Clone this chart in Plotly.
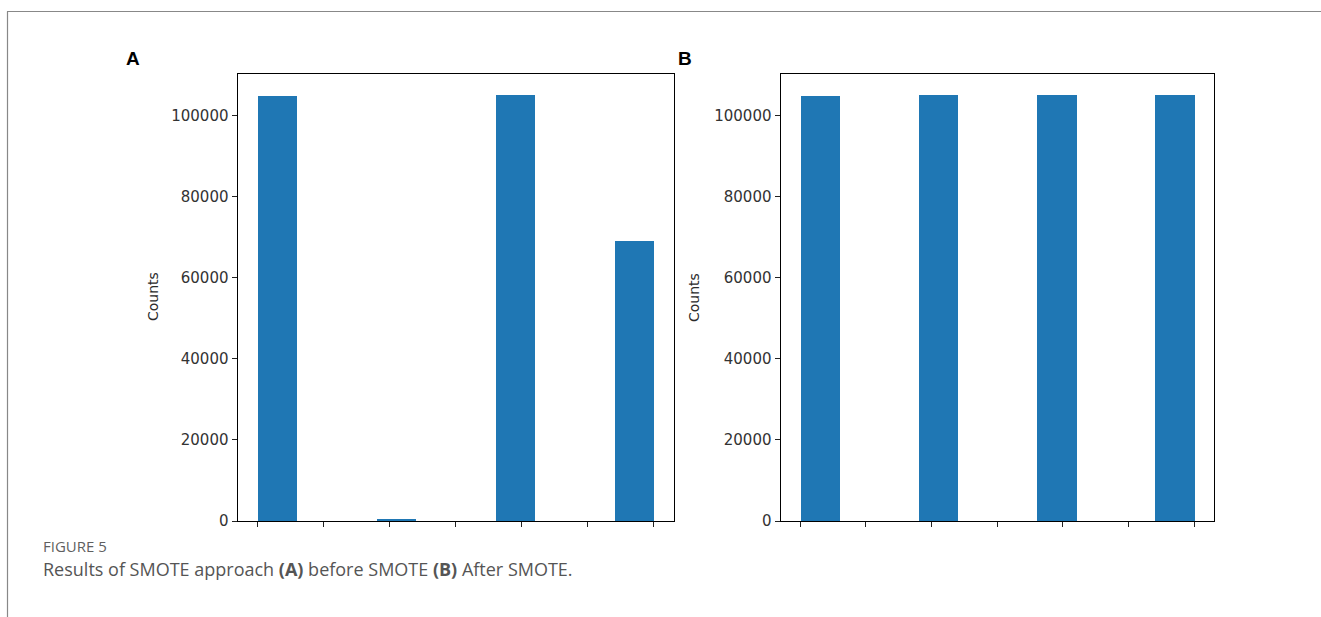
import math
import plotly.graph_objects as go

# ---- data ----
classes = [0, 1, 2, 3]
counts_before = [104900, 500, 105100, 69100]
counts_after = [104900, 105100, 105100, 105100]
y_ticks = [0, 20000, 40000, 60000, 80000, 100000]
x_ticks = [0, 0.5, 1.0, 1.5, 2.0, 2.5, 3.0]
n_bins = 10
panel_labels = ["A", "B"]
y_title = "Counts"
caption_head = "FIGURE 5"
caption_text = "Results of SMOTE approach <b>(A)</b> before SMOTE <b>(B)</b> After SMOTE."

W, H = 1321, 617
BLUE = "#1f77b4"

lo, hi = min(classes), max(classes)
bw = (hi - lo) / n_bins


def bin_center(v):
    idx = min(int(math.floor((v - lo) / bw + 1e-9)), n_bins - 1)
    return lo + (idx + 0.5) * bw


centers = [bin_center(v) for v in classes]

fig = go.Figure()
fig.add_trace(go.Bar(x=centers, y=counts_before, width=bw, marker=dict(color=BLUE, line=dict(width=0)),
                     xaxis="x", yaxis="y", showlegend=False, hoverinfo="skip"))
fig.add_trace(go.Bar(x=centers, y=counts_after, width=bw, marker=dict(color=BLUE, line=dict(width=0)),
                     xaxis="x2", yaxis="y2", showlegend=False, hoverinfo="skip"))


def px_x(p):
    return p / W


def px_y(p):
    return 1 - p / H


ymax = max(counts_before + counts_after) * 1.05
xpad = (hi - lo) * 0.05

ax_common = dict(showline=True, linecolor="black", linewidth=1, mirror=True, showgrid=False,
                 zeroline=False, ticks="outside", ticklen=5, tickcolor="#222", tickwidth=1,
                 automargin=False)
font_tick = dict(family="DejaVu Sans", size=15, color="#333")

doms = [(237.5, 673.5), (780.5, 1214)]
ydom = [px_y(521), px_y(74)]

fig.update_layout(
    width=W, height=H, autosize=False, margin=dict(l=0, r=0, t=0, b=0, pad=0),
    paper_bgcolor="white", plot_bgcolor="white", bargap=0,
    xaxis=dict(domain=[px_x(doms[0][0]), px_x(doms[0][1])], range=[lo - xpad, hi + xpad],
               tickvals=x_ticks, ticktext=[""] * len(x_ticks), anchor="y", **ax_common),
    yaxis=dict(domain=ydom, range=[0, ymax], tickvals=y_ticks, ticktext=[str(t) for t in y_ticks],
               tickfont=font_tick, anchor="x", **ax_common),
    xaxis2=dict(domain=[px_x(doms[1][0]), px_x(doms[1][1])], range=[lo - xpad, hi + xpad],
                tickvals=x_ticks, ticktext=[""] * len(x_ticks), anchor="y2", **ax_common),
    yaxis2=dict(domain=ydom, range=[0, ymax], tickvals=y_ticks, ticktext=[str(t) for t in y_ticks],
                tickfont=font_tick, anchor="x2", **ax_common),
)

ann = []
for lab, xc in zip(panel_labels, [133, 685]):
    ann.append(dict(text="<b>%s</b>" % lab, x=px_x(xc), y=px_y(59), xref="paper", yref="paper",
                    xanchor="center", yanchor="middle", showarrow=False,
                    font=dict(family="Liberation Sans", size=19, color="black")))
for xc in [153, 694]:
    ann.append(dict(text=y_title, x=px_x(xc), y=px_y(297), xref="paper", yref="paper",
                    xanchor="center", yanchor="middle", textangle=-90, showarrow=False,
                    font=dict(family="DejaVu Sans", size=14, color="#2a2a2a")))
ann.append(dict(text=caption_head, x=px_x(41), y=px_y(546), xref="paper", yref="paper",
                xanchor="left", yanchor="middle", showarrow=False,
                font=dict(family="Open Sans", size=15, color="#5f5f5f")))
ann.append(dict(text=caption_text, x=px_x(41), y=px_y(569), xref="paper", yref="paper",
                xanchor="left", yanchor="middle", showarrow=False,
                font=dict(family="Open Sans", size=18, color="#555")))
fig.update_layout(annotations=ann)

shapes = [
    dict(type="line", xref="paper", yref="paper", x0=px_x(7), x1=1, y0=px_y(11.5), y1=px_y(11.5),
         line=dict(color="#888", width=1.2)),
    dict(type="line", xref="paper", yref="paper", x0=px_x(7.5), x1=px_x(7.5), y0=px_y(11.5), y1=0,
         line=dict(color="#888", width=1.2)),
]
fig.update_layout(shapes=shapes)

fig.write_html("out.html", config={"displayModeBar": False, "responsive": False},
               post_script="document.body.style.margin='0';document.body.style.overflow='hidden';")
